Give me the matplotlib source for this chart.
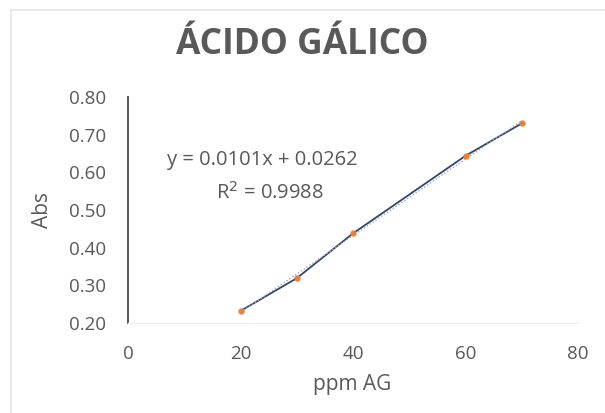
import numpy as np
import matplotlib
matplotlib.use("Agg")
import matplotlib.pyplot as plt

# data
ppm = [20, 30, 40, 60, 70]
absorbance = [0.232, 0.319, 0.438, 0.644, 0.730]
x_ticks = [0, 20, 40, 60, 80]
y_ticks = [0.20, 0.30, 0.40, 0.50, 0.60, 0.70, 0.80]

plt.rcParams['font.family'] = ['Open Sans', 'DejaVu Sans']
gray = '#595959'

fig = plt.figure(figsize=(6.05, 4.13), dpi=100)
ax = fig.add_axes([0.2116, 0.2179, 0.7438, 0.5471])

# series: straight line through points, with orange markers
ax.plot(ppm, absorbance, color='#34466b', lw=1.3, zorder=3)
ax.plot(ppm, absorbance, 'o', ms=3.5, color='#ed7d31', mec='#ed7d31', zorder=4)

# linear trendline (dotted)
coef = np.polyfit(ppm, absorbance, 1)
xs = np.array([min(ppm), max(ppm)])
ax.plot(xs, np.polyval(coef, xs), color='#9aa8c4', lw=1.0, ls=(0, (1, 1.5)), zorder=5)

ax.set_xlim(0, 80)
ax.set_ylim(0.20, 0.80)
ax.set_xticks(x_ticks)
ax.set_yticks(y_ticks)
ax.set_yticklabels([f"{v:.2f}" for v in y_ticks])
ax.tick_params(axis='both', length=0, labelsize=13.5, colors=gray)
ax.tick_params(axis='x', pad=16)
ax.tick_params(axis='y', pad=16)

for side in ['top', 'right']:
    ax.spines[side].set_visible(False)
ax.spines['left'].set_color('#555555')
ax.spines['left'].set_linewidth(1.4)
ax.spines['bottom'].set_color('#eeeeee')
ax.spines['bottom'].set_linewidth(1.0)

ax.set_xlabel('ppm AG', fontsize=15, color=gray)
ax.set_ylabel('Abs', fontsize=15, color=gray)
ax.xaxis.set_label_coords(0.499, -0.27)
ax.yaxis.set_label_coords(-0.189, 0.5)
ax.xaxis.label.set_va('center')
ax.yaxis.label.set_va('center')

fig.text(0.50, 0.89, 'ÁCIDO GÁLICO', ha='center', va='center',
         fontsize=25.5, fontweight='bold', color='#595959')

fig.text(0.433, 0.613, 'y = 0.0101x + 0.0262', ha='center', va='center',
         fontsize=14.5, color=gray)
fig.text(0.447, 0.533, 'R$^2$ = 0.9988', ha='center', va='center',
         fontsize=14.5, color=gray)

# light chart frame (left and top edges visible)
fig.add_artist(plt.Line2D([0.019, 0.019], [0, 0.976], color='#e6e6e6', lw=1.2))
fig.add_artist(plt.Line2D([0.019, 1], [0.976, 0.976], color='#e6e6e6', lw=1.2))

fig.savefig('out.png', dpi=100)
